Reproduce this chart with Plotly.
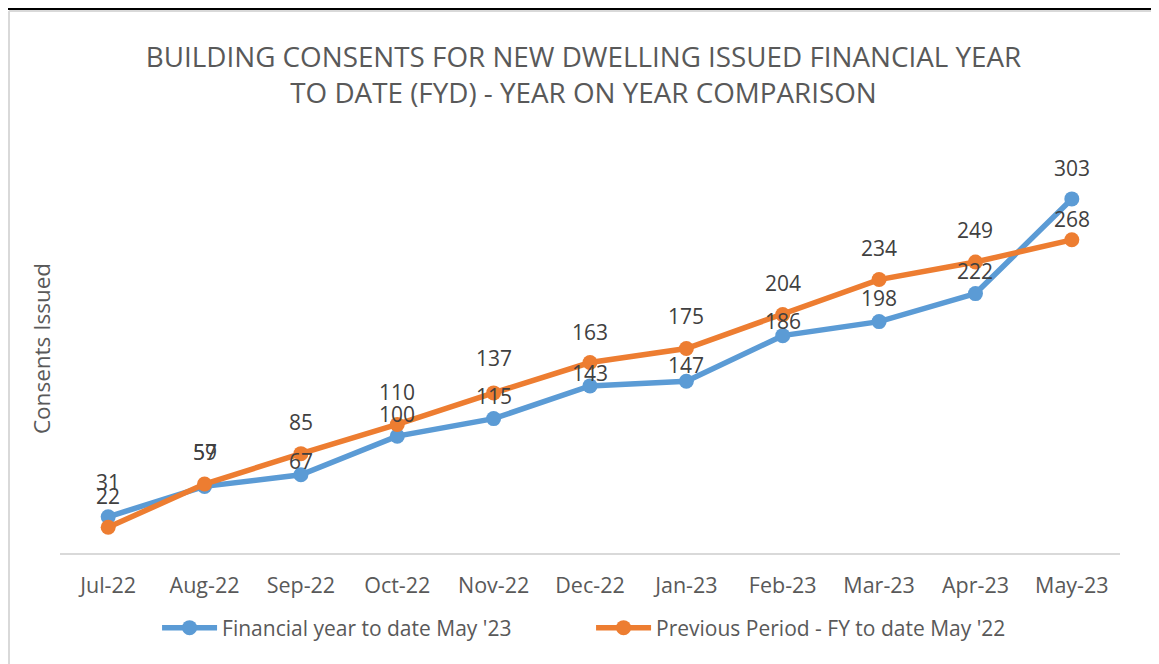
import plotly.graph_objects as go

months = ["Jul-22", "Aug-22", "Sep-22", "Oct-22", "Nov-22", "Dec-22",
          "Jan-23", "Feb-23", "Mar-23", "Apr-23", "May-23"]
fy_2023 = [31, 57, 67, 100, 115, 143, 147, 186, 198, 222, 303]
fy_2022 = [22, 59, 85, 110, 137, 163, 175, 204, 234, 249, 268]

# label placement (pixels above each point), as in the original chart
lift_2023 = [35, 34, 14, 22, 23, 13, 16, 15, 24, 23, 31]
lift_2022 = [31, 32, 32, 32, 35, 31, 33, 32, 32, 32, 21]

BLUE = "#5B9BD5"
ORANGE = "#ED7D31"
FONT = "Open Sans"
TXT = "#595959"
LBL = "#404040"

W, H = 1159, 664
ML, MR, MT, MB = 52, 47, 136, 119
pw = W - ML - MR
ph = H - MT - MB


def px_x(x):
    return (x - ML) / pw


def px_y(y):
    return (H - MB - y) / ph


fig = go.Figure()
fig.add_trace(go.Scatter(
    x=months, y=fy_2023, mode="lines+markers",
    name="Financial year to date May '23",
    line=dict(color=BLUE, width=5.5),
    marker=dict(color=BLUE, size=15),
    cliponaxis=False,
))
fig.add_trace(go.Scatter(
    x=months, y=fy_2022, mode="lines+markers",
    name="Previous Period - FY to date May '22",
    line=dict(color=ORANGE, width=5.5),
    marker=dict(color=ORANGE, size=15),
    cliponaxis=False,
))

annotations = []
for series, lifts in ((fy_2023, lift_2023), (fy_2022, lift_2022)):
    for m, v, s in zip(months, series, lifts):
        annotations.append(dict(
            x=m, y=v, xref="x", yref="y", text=str(v), showarrow=False,
            yanchor="middle", xanchor="center", yshift=s,
            font=dict(family=FONT, size=21, color=LBL),
        ))

fig.update_layout(
    width=W, height=H,
    margin=dict(l=ML, r=MR, t=MT, b=MB),
    paper_bgcolor="white", plot_bgcolor="white",
    font=dict(family=FONT, color=TXT),
    title=dict(
        text="BUILDING CONSENTS FOR NEW DWELLING ISSUED FINANCIAL YEAR<br>TO DATE (FYD) - YEAR ON YEAR COMPARISON",
        x=0.4966, xanchor="center", y=1 - 59 / H, yanchor="middle",
        font=dict(family=FONT, size=27.8, color=TXT),
    ),
    xaxis=dict(
        type="category", range=[-0.5, 10.5],
        showline=True, linecolor="#D9D9D9", linewidth=2,
        showgrid=False, ticks="", zeroline=False,
        ticklabelstandoff=12,
        tickfont=dict(family=FONT, size=21.5, color=TXT),
    ),
    yaxis=dict(
        range=[0, 350], showgrid=False, showticklabels=False,
        zeroline=False, showline=False, ticks="",
        title=dict(text="Consents Issued", standoff=2,
                   font=dict(family=FONT, size=22.5, color=TXT)),
    ),
    legend=dict(
        orientation="h", x=0.501, xanchor="center", y=px_y(620), yanchor="middle",
        font=dict(family=FONT, size=21, color=TXT),
        itemwidth=55, entrywidth=364, entrywidthmode="pixels",
    ),
    showlegend=True,
    annotations=annotations,
    shapes=[
        dict(type="line", xref="paper", yref="paper",
             x0=px_x(0), x1=px_x(W), y0=px_y(1), y1=px_y(1),
             line=dict(color="black", width=2)),
        dict(type="line", xref="paper", yref="paper",
             x0=px_x(1), x1=px_x(1), y0=px_y(3), y1=px_y(H),
             line=dict(color="#D9D9D9", width=2)),
        dict(type="line", xref="paper", yref="paper",
             x0=px_x(1), x1=px_x(W), y0=px_y(3), y1=px_y(3),
             line=dict(color="#D9D9D9", width=2)),
    ],
)

fig.write_html("out.html")
